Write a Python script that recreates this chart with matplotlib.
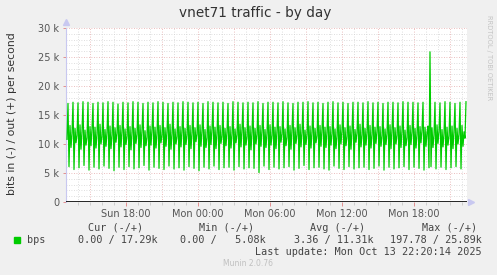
import matplotlib
matplotlib.use('Agg')
import matplotlib.pyplot as plt
import numpy as np

# out traffic, 5 minute samples, in k bits per second (Sun ~13:05 .. Mon 22:20)
out_k = [
    10.8, 17.0, 6.1, 13.2, 9.4, 11.9, 17.2, 5.6, 12.7, 10.2, 11.5, 17.1, 5.9, 13.3, 9.1, 12.2, 17.3, 6.3, 12.4, 9.8,
    11.1, 17.2, 5.5, 13.0, 9.7, 12.6, 17.0, 6.0, 12.9, 9.3, 11.8, 17.2, 5.7, 13.4, 10.0, 11.3, 17.1, 6.2, 12.5, 9.6,
    12.0, 17.3, 5.8, 13.1, 9.2, 11.6, 17.2, 5.4, 12.8, 10.3, 11.9, 16.9, 6.0, 13.2, 9.5, 12.3, 17.2, 5.6, 12.6, 9.9,
    11.4, 17.1, 6.1, 13.0, 9.0, 12.1, 17.3, 5.7, 12.7, 10.1, 11.7, 17.2, 5.9, 13.3, 9.4, 12.4, 17.0, 6.3, 12.3, 9.7,
    11.2, 17.2, 5.5, 13.1, 9.8, 12.5, 17.1, 6.0, 12.9, 9.3, 11.9, 17.3, 5.8, 13.2, 10.2, 11.5, 17.2, 5.6, 12.8, 9.6,
    12.2, 17.0, 6.2, 13.4, 9.1, 11.8, 17.2, 5.7, 12.6, 10.0, 11.3, 17.1, 5.9, 13.0, 9.5, 12.4, 17.3, 5.5, 12.7, 9.9,
    11.6, 17.2, 6.1, 13.2, 9.2, 12.0, 17.1, 5.8, 12.8, 10.4, 11.7, 17.2, 5.4, 13.3, 9.6, 12.3, 17.0, 6.0, 12.5, 9.4,
    11.1, 17.3, 5.7, 13.1, 9.9, 12.6, 17.2, 6.2, 12.9, 9.2, 11.9, 17.1, 5.6, 13.2, 10.1, 11.4, 17.2, 5.9, 12.7, 9.7,
    12.1, 17.0, 6.0, 13.0, 9.3, 11.8, 17.3, 5.5, 12.6, 10.2, 11.6, 17.2, 6.1, 13.4, 9.5, 12.5, 17.1, 5.7, 12.8, 9.8,
    11.3, 17.2, 5.9, 13.1, 9.0, 12.2, 17.1, 5.8, 12.7, 10.0, 11.7, 17.3, 5.08, 13.2, 9.6, 12.4, 17.0, 6.2, 12.5, 9.4,
    11.9, 17.2, 5.6, 13.3, 9.8, 11.5, 17.2, 6.0, 12.9, 9.2, 12.3, 17.1, 5.7, 13.0, 10.3, 11.8, 17.3, 5.9, 12.6, 9.7,
    11.2, 17.1, 6.1, 13.2, 9.1, 12.6, 17.0, 5.5, 12.8, 10.1, 11.6, 17.2, 5.8, 13.4, 9.5, 12.0, 17.2, 6.3, 12.4, 9.9,
    11.7, 17.3, 5.6, 13.1, 9.3, 12.2, 17.1, 5.9, 12.7, 10.2, 11.4, 17.2, 6.0, 13.2, 9.6, 12.5, 17.0, 5.7, 12.9, 9.4,
    12.1, 17.2, 5.5, 13.0, 9.8, 11.8, 17.3, 6.2, 12.6, 9.2, 11.5, 17.1, 5.8, 13.3, 10.0, 12.3, 17.2, 5.6, 12.8, 9.7,
    11.3, 17.0, 6.1, 13.1, 9.1, 12.4, 17.2, 5.7, 12.5, 10.3, 11.9, 17.2, 5.9, 13.4, 9.5, 11.6, 17.1, 6.0, 12.7, 9.8,
    12.0, 17.3, 5.6, 13.2, 9.3, 11.7, 17.1, 5.8, 12.9, 10.1, 12.2, 17.2, 6.2, 13.0, 9.6, 11.4, 17.0, 5.5, 12.6, 9.9,
    11.8, 17.2, 6.0, 13.3, 9.2, 12.5, 17.2, 5.7, 12.8, 10.0, 11.5, 17.1, 5.9, 13.1, 9.4, 12.3, 17.3, 6.1, 12.4, 9.7,
    11.1, 17.2, 5.6, 13.2, 9.9, 12.1, 17.2, 6.0, 12.7, 9.3, 11.7, 17.1, 5.8, 13.0, 10.2, 12.4, 17.2, 5.5, 12.9, 9.6,
    12.0, 13.1, 5.9, 25.89, 6.1, 12.8, 9.4, 11.6, 17.2, 5.7, 13.3, 10.1, 12.2, 17.1, 6.0, 12.5, 9.5, 11.8, 17.3, 5.6,
    12.9, 9.8, 11.4, 17.2, 5.9, 13.1, 9.2, 12.3, 17.0, 6.1, 12.7, 10.0, 11.7, 17.2, 5.7, 13.2, 9.6, 12.1, 11.0, 17.29,
]

# hours relative to Mon 00:00
t_end = 22 + 20 / 60
t_start = -11.0
tick_hours = [-6, 0, 6, 12, 18]
tick_labels = ['Sun 18:00', 'Mon 00:00', 'Mon 06:00', 'Mon 12:00', 'Mon 18:00']
y_ticks = [0, 5, 10, 15, 20, 25, 30]
y_labels = ['0', '5 k', '10 k', '15 k', '20 k', '25 k', '30 k']

headers = ['Cur (-/+)', 'Min (-/+)', 'Avg (-/+)', 'Max (-/+)']
values = ['0.00 / 17.29k', '0.00 /   5.08k', '3.36 / 11.31k', '197.78 / 25.89k']

times = t_end - (len(out_k) - 1 - np.arange(len(out_k))) / 12.0

fig = plt.figure(figsize=(4.97, 2.75), dpi=100, facecolor='#f0f0f0')
ax = fig.add_axes([66 / 497, 73 / 275, 401 / 497, 174 / 275])
ax.set_facecolor('white')

ax.set_xlim(t_start, t_start + 401 / 12)
ax.set_ylim(0, 30)

# grid
for h in np.arange(-10, 23, 1):
    if h % 3 == 0:
        ax.axvline(h, color='#e4a8a8', lw=0.6, ls=(0, (1, 2)), zorder=1)
    else:
        ax.axvline(h, color='#d4d4d4', lw=0.6, ls=(0, (1, 2)), zorder=1)
for v in range(1, 31):
    if v % 5 == 0:
        ax.axhline(v, color='#e4a8a8', lw=0.6, ls=(0, (1, 2)), zorder=1)
    else:
        ax.axhline(v, color='#d4d4d4', lw=0.6, ls=(0, (1, 2)), zorder=1)

ax.plot(times, out_k, color='#00cc00', lw=0.9, zorder=3)
ax.axhline(0, color='black', lw=1.2, zorder=4)

for s in ['top', 'right', 'bottom']:
    ax.spines[s].set_visible(False)
ax.spines['left'].set_color('#c8c8f0')
ax.spines['left'].set_linewidth(0.8)

ax.set_xticks(tick_hours)
ax.set_xticklabels(tick_labels)
ax.set_xticks(np.arange(-10, 23, 1), minor=True)
ax.set_yticks(y_ticks)
ax.set_yticklabels(y_labels)
ax.tick_params(axis='x', colors='#e08080', length=3, width=0.6, labelcolor='#555555',
               labelsize=7, pad=2)
ax.tick_params(axis='x', which='minor', colors='#c0c0c0', length=2, width=0.5)
ax.tick_params(axis='y', colors='#e08080', length=2, width=0.6, labelcolor='#555555',
               labelsize=7, pad=3)

# axis arrows
ax.plot([0], [1.035], marker='^', color='#c8c8f0', ms=4, transform=ax.transAxes, clip_on=False)
ax.plot([1.01], [0], marker='>', color='#c8c8f0', ms=4, transform=ax.transAxes, clip_on=False)

fig.text(255 / 497, 1 - 13 / 275, 'vnet71 traffic - by day', ha='center', va='center',
         fontsize=9.8, color='#333333')
fig.text(12 / 497, 1 - 114 / 275, 'bits in (-) / out (+) per second', rotation=90,
         ha='center', va='center', fontsize=7.8, color='#333333')
fig.text(489 / 497, 1 - 58 / 275, 'RRDTOOL / TOBI OETIKER', rotation=270,
         ha='center', va='center', fontsize=4.8, color='#c4c4c4')

# legend
mono = 'DejaVu Sans Mono'
header_right = [143, 254, 365, 477]
value_right = [158, 266, 374, 482]
for hx, h in zip(header_right, headers):
    fig.text(hx / 497, 1 - 228 / 275, h, ha='right', va='center', family=mono,
             fontsize=7.3, color='#444444')
fig.patches.append(plt.Rectangle((14 / 497, 1 - 243 / 275), 6 / 497, 6 / 275,
                                 transform=fig.transFigure, color='#00cc00'))
fig.text(27 / 497, 1 - 240 / 275, 'bps', ha='left', va='center', family=mono,
         fontsize=7.3, color='#444444')
for vx, v in zip(value_right, values):
    fig.text(vx / 497, 1 - 240 / 275, v, ha='right', va='center', family=mono,
             fontsize=7.3, color='#444444')
fig.text(482 / 497, 1 - 252 / 275, 'Last update: Mon Oct 13 22:20:14 2025', ha='right',
         va='center', family=mono, fontsize=7.3, color='#444444')
fig.text(248 / 497, 1 - 264 / 275, 'Munin 2.0.76', ha='center', va='center',
         fontsize=5.5, color='#c0c0c0')

fig.savefig('out.png', dpi=100, facecolor=fig.get_facecolor())
